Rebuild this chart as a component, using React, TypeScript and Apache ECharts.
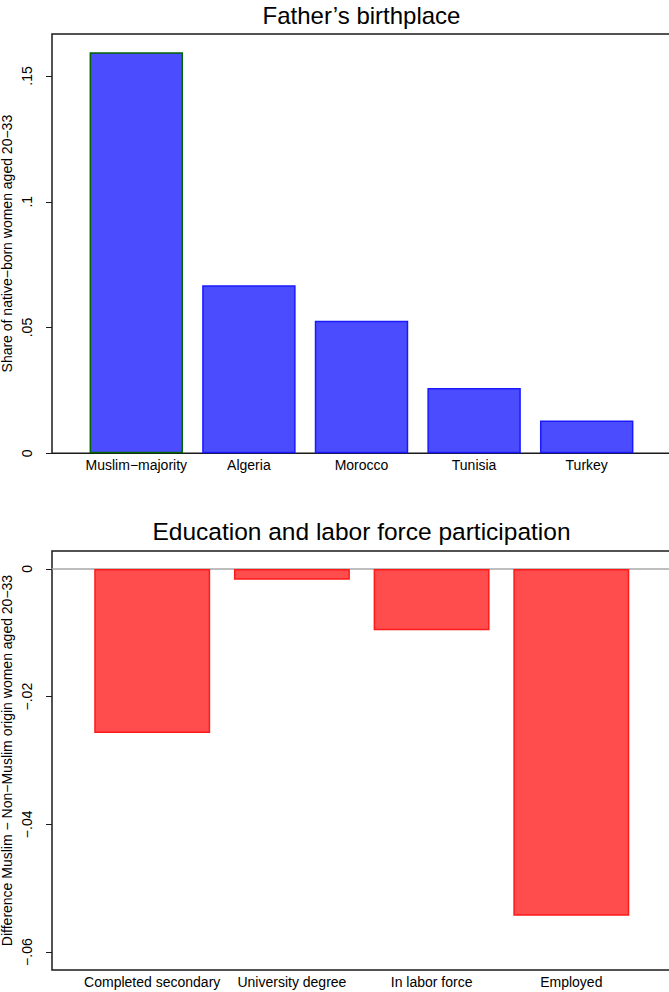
import React, { useEffect, useRef } from "react";
import * as echarts from "echarts";

const birthCategories = ["Muslim\u2212majority", "Algeria", "Morocco", "Tunisia", "Turkey"];
const birthShares = [0.1594, 0.0668, 0.0527, 0.026, 0.013];
const birthTicks = [0, 0.05, 0.1, 0.15];

const outcomeCategories = ["Completed secondary", "University degree", "In labor force", "Employed"];
const outcomeDiffs = [-0.0257, -0.0017, -0.0096, -0.0543];
const outcomeTicks = [0, -0.02, -0.04, -0.06];

const FONT = "'Liberation Sans', Arial, Helvetica, sans-serif";

function fmt(v: number): string {
  if (Math.abs(v) < 1e-9) return "0";
  const s = Number(Math.abs(v).toFixed(4)).toString().replace(/^0\./, ".");
  return (v < 0 ? "\u2212" : "") + s;
}

function frameY(gridIndex: number, min: number, max: number, ticks: number[], name: string, nameGap: number) {
  return {
    gridIndex,
    type: "value",
    min,
    max,
    axisLine: { show: false },
    axisTick: { show: true, length: 6, customValues: ticks, lineStyle: { color: "#1a1a1a", width: 1 } },
    axisLabel: {
      customValues: ticks,
      rotate: 90,
      margin: 18,
      formatter: (v: number) => fmt(v),
      fontSize: 14,
      fontFamily: FONT,
      color: "#000",
    },
    splitLine: { show: false },
    name,
    nameLocation: "middle",
    nameRotate: 90,
    nameGap,
    nameMoveOverlap: false,
    nameTextStyle: { fontSize: 14, fontFamily: FONT, color: "#000" },
  };
}

export default function App() {
  const ref = useRef<HTMLDivElement>(null);
  useEffect(() => {
    if (!ref.current) return;
    const chart = echarts.init(ref.current, null, { renderer: "svg" });
    const topMax = 0.1667;
    const botMin = -0.0628;
    const botMax = 0.0028;
    chart.setOption({
      animation: false,
      backgroundColor: "#fff",
      graphic: [
        {
          type: "text",
          x: 361.5,
          y: 15,
          style: { text: "Father\u2019s birthplace", align: "center", verticalAlign: "middle", font: `24px ${FONT}`, fill: "#000" },
        },
        {
          type: "text",
          x: 361.5,
          y: 531,
          style: {
            text: "Education and labor force participation",
            align: "center",
            verticalAlign: "middle",
            font: `24.5px ${FONT}`,
            fill: "#000",
          },
        },
      ],
      grid: [
        { left: 52, top: 34, width: 619, height: 419.3, show: true, borderColor: "#1a1a1a", borderWidth: 1.5, backgroundColor: "transparent", outerBoundsMode: "none" },
        { left: 80, top: 34, width: 563, height: 419.3, outerBoundsMode: "none" },
        { left: 52, top: 551, width: 619, height: 419, show: true, borderColor: "#1a1a1a", borderWidth: 1.5, backgroundColor: "transparent", outerBoundsMode: "none" },
        { left: 82.35, top: 551, width: 558.8, height: 419, outerBoundsMode: "none" },
      ],
      xAxis: [
        { gridIndex: 0, type: "value", min: 0, max: 1, axisLine: { show: false }, axisTick: { show: false }, axisLabel: { show: false }, splitLine: { show: false } },
        {
          gridIndex: 1,
          type: "category",
          data: birthCategories,
          axisLine: { show: false, onZero: false },
          axisTick: { show: false },
          axisLabel: { interval: 0, margin: 5, fontSize: 14, fontFamily: FONT, color: "#000" },
        },
        {
          gridIndex: 2,
          type: "value",
          min: 0,
          max: 1,
          axisLine: { show: true, onZero: true, lineStyle: { color: "#a8a8a8", width: 1.5 } },
          axisTick: { show: false },
          axisLabel: { show: false },
          splitLine: { show: false },
        },
        {
          gridIndex: 3,
          type: "category",
          data: outcomeCategories,
          axisLine: { show: false, onZero: false },
          axisTick: { show: false },
          axisLabel: { interval: 0, margin: 5, fontSize: 14, fontFamily: FONT, color: "#000" },
        },
      ],
      yAxis: [
        frameY(0, 0, topMax, birthTicks, "Share of native\u2212born women aged 20\u221233", 38),
        { gridIndex: 1, type: "value", min: 0, max: topMax, show: false },
        frameY(2, botMin, botMax, outcomeTicks, "Difference Muslim \u2212 Non\u2212Muslim origin women aged 20\u221233", 38),
        { gridIndex: 3, type: "value", min: botMin, max: botMax, show: false },
      ],
      series: [
        {
          type: "bar",
          xAxisIndex: 1,
          yAxisIndex: 1,
          barCategoryGap: "17%",
          data: birthShares.map((v, i) => (i === 0 ? { value: v, itemStyle: { borderColor: "#006400" } } : v)),
          itemStyle: { color: "#4c4cff", borderColor: "#1a1aff", borderWidth: 1.5 },
        },
        {
          type: "bar",
          xAxisIndex: 3,
          yAxisIndex: 3,
          barCategoryGap: "17%",
          data: outcomeDiffs,
          itemStyle: { color: "#ff4c4c", borderColor: "#ff1a1a", borderWidth: 1.5 },
        },
      ],
    });
    return () => chart.dispose();
  }, []);
  return <div ref={ref} style={{ position: "absolute", left: 0, top: 0, width: 669, height: 992 }} />;
}
